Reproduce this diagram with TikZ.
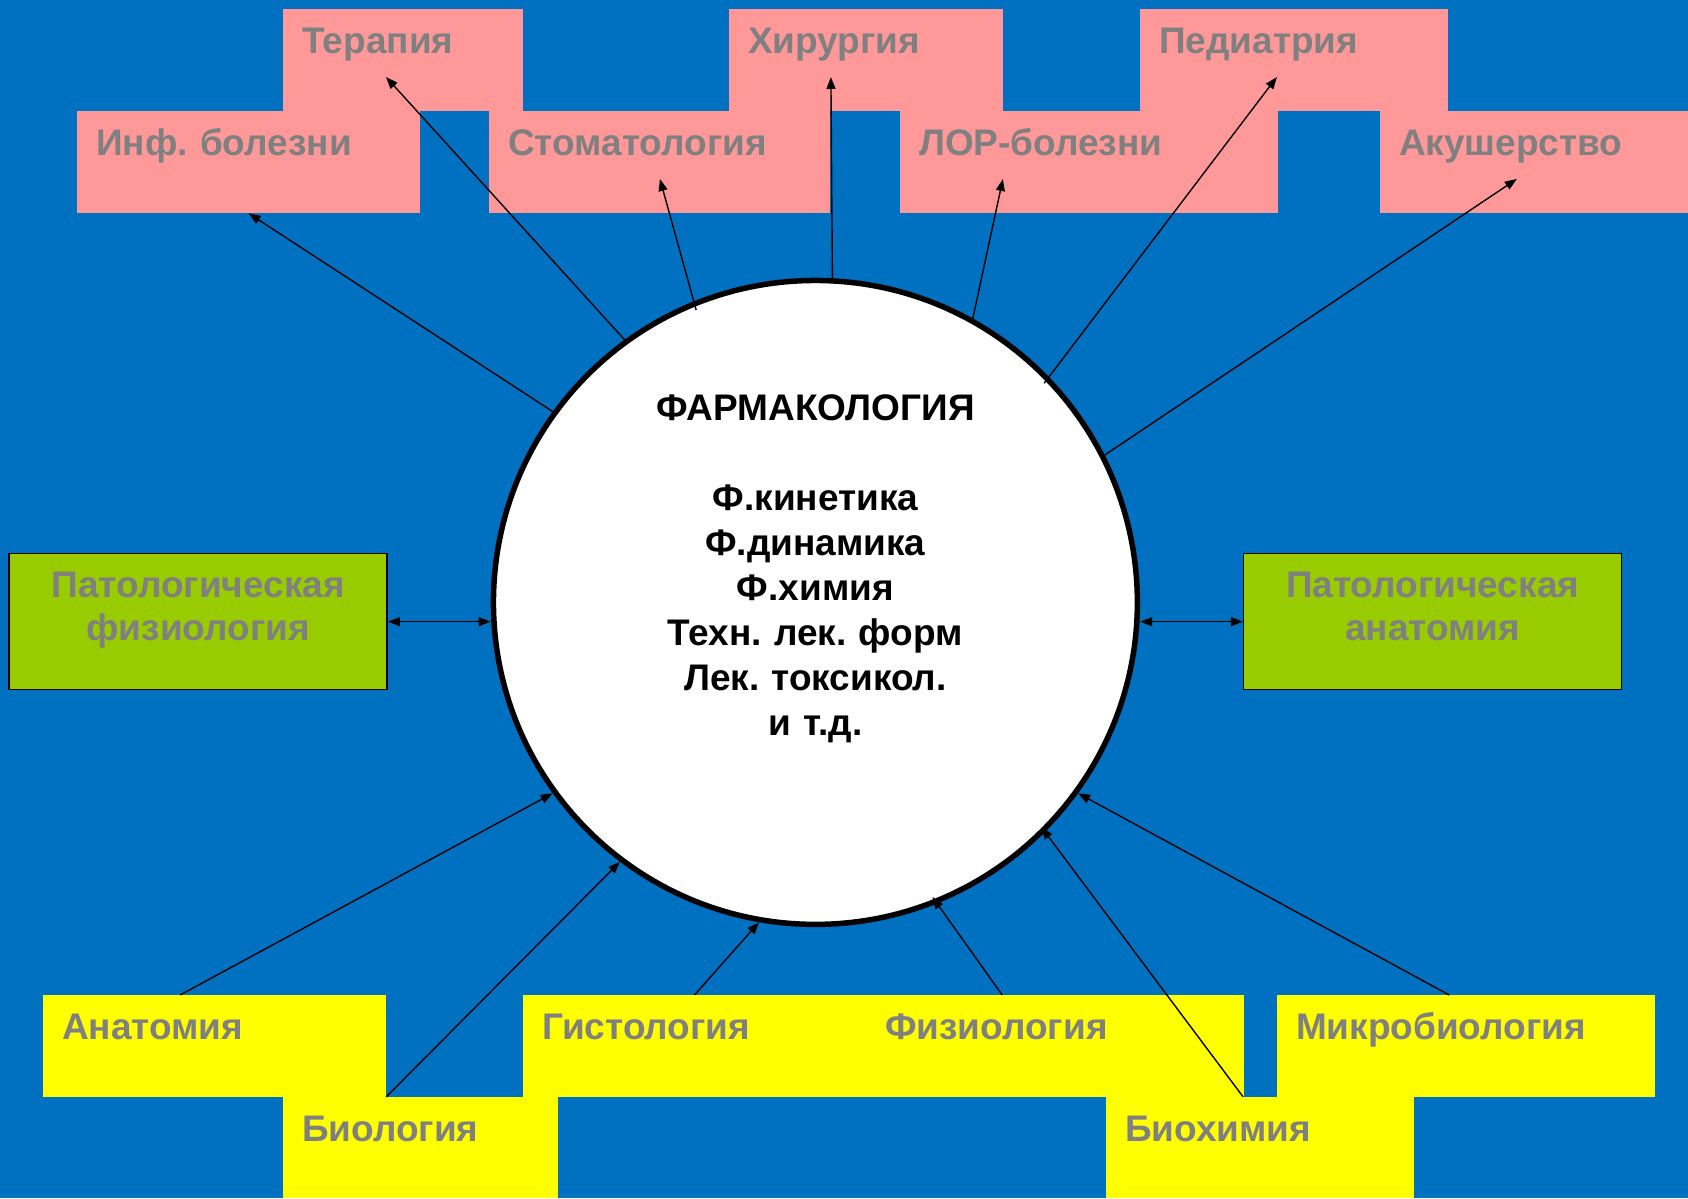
\documentclass[tikz,border=0pt]{standalone}
\usepackage{fontspec}
\setmainfont{Liberation Sans}
\usetikzlibrary{arrows.meta,calc}
\definecolor{bgblue}{RGB}{0,112,192}
\definecolor{pinkbox}{RGB}{255,153,153}
\definecolor{yelbox}{RGB}{255,255,0}
\definecolor{grnbox}{RGB}{153,204,0}
\definecolor{txtgray}{RGB}{128,128,128}
\frenchspacing
\begin{document}
\begin{tikzpicture}[x=1pt,y=-1pt,
  lbl/.style={anchor=north west, inner ysep=0pt, inner xsep=19pt, text height=44pt, align=left, text=txtgray, font=\fontsize{37pt}{43pt}\selectfont\bfseries},
  pinkb/.style={lbl, fill=pinkbox},
  yelb/.style={lbl, fill=yelbox},
  grnb/.style={anchor=north west, draw=black, line width=1.5pt, fill=grnbox, inner sep=0pt, align=center, text height=44pt, text depth=92pt, text width=378pt, text=txtgray, font=\fontsize{37pt}{43pt}\selectfont\bfseries},
  circ/.style={circle, draw=black, line width=5.5pt, fill=white, minimum size=644pt, inner sep=0pt, text width=440pt, align=center, text height=27pt, text depth=390pt, font=\fontsize{37pt}{45pt}\selectfont\bfseries},
  arr/.style={line width=1.4pt, -{Triangle[length=12pt,width=9pt]}},
  darr/.style={line width=1.4pt, {Triangle[length=12pt,width=9pt]}-{Triangle[length=12pt,width=9pt]}}
]
% background
\fill[bgblue] (0,0) rectangle (1688,1198);

% pink boxes (top)
\node[pinkb, text width=202pt, text depth=58pt] (ter) at (283,9) {Терапия};
\node[pinkb, text width=236pt, text depth=58pt] (hir) at (729,9) {Хирургия};
\node[pinkb, text width=270pt, text depth=58pt] (ped) at (1140,9) {Педиатрия};
\node[pinkb, text width=305pt, text depth=58pt] (inf) at (77,111) {Инф. болезни};
\node[pinkb, text width=303pt, text depth=58pt] (stom) at (489,111) {Стоматология};
\node[pinkb, text width=340pt, text depth=58pt] (lor) at (900,111) {ЛОР-болезни};
\node[pinkb, text width=270pt, text depth=58pt] (aku) at (1380,111) {Акушерство};

% yellow boxes (bottom)
\node[yelb, text width=305pt, text depth=58pt] (an) at (43,995) {Анатомия};
\node[yelb, text width=305pt, text depth=58pt] (gis) at (523,995) {Гистология};
\node[yelb, text width=340pt, text depth=58pt] (fiz) at (866,995) {Физиология};
\node[yelb, text width=340pt, text depth=58pt] (mic) at (1277,995) {Микробиология};
\node[yelb, text width=237pt, text depth=57pt] (bio) at (283,1097) {Биология};
\node[yelb, text width=270pt, text depth=57pt] (bioh) at (1106,1097) {Биохимия};

% green boxes
\node[grnb] (pf) at (8.5,553) {Патологическая\\физиология};
\node[grnb] (pa) at (1243,553) {Патологическая\\анатомия};

% central circle
\node[circ] (ph) at (815.5,602.5) {ФАРМАКОЛОГИЯ\\[45pt]Ф.кинетика\\Ф.динамика\\Ф.химия\\Техн. лек. форм\\Лек. токсикол.\\и т.д.};

% arrows to the top boxes
\draw[arr] (ph.144.1) -- (inf.south);
\draw[arr, shorten <=-3pt] (ph.126.7) -- ($(ter.north west)+(103,68)$);
\draw[arr, shorten <=-9pt] (ph.112.8) -- ($(stom.north west)+(171,68)$);
\draw[arr] (ph.87.1) -- ($(hir.north west)+(102,68)$);
\draw[arr] (ph.61.9) -- ($(lor.north west)+(103,68)$);
\draw[arr, shorten <=-8pt] (ph.44.9) -- ($(ped.north west)+(137,68)$);
\draw[arr] (ph.27.6) -- ($(aku.north west)+(137,68)$);

% arrows from the bottom boxes
\draw[arr] ($(an.north west)!0.40!(an.north east)$) -- (ph.216.0);
\draw[arr] ($(bio.north west)!0.375!(bio.north east)$) -- (ph.233.3);
\draw[arr] (gis.north) -- (ph.260.5);
\draw[arr, shorten >=-8pt] ($(fiz.north west)!0.36!(fiz.north east)$) -- (ph.292.5);
\draw[arr, shorten >=-6pt] ($(bioh.north west)!0.445!(bioh.north east)$) -- (ph.315.1);
\draw[arr] ($(mic.north west)!0.455!(mic.north east)$) -- (ph.324.1);

% side double arrows
\draw[darr] (pf.east) -- (pf.east -| ph.west);
\draw[darr] (pa.west) -- (pa.west -| ph.east);
\end{tikzpicture}
\end{document}
